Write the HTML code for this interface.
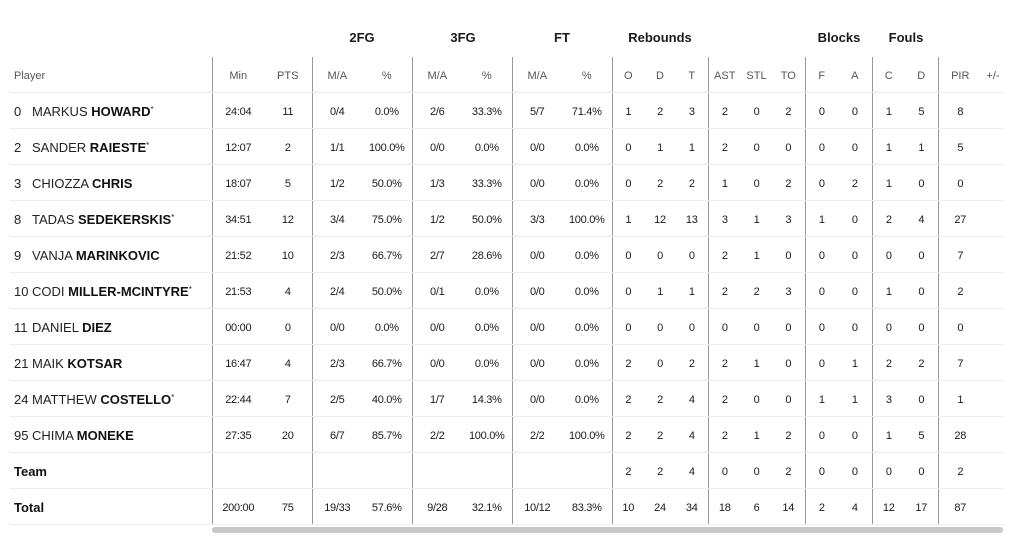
<!DOCTYPE html>
<html><head><meta charset="utf-8"><style>
body{margin:0;background:#fff;font-family:"Liberation Sans",sans-serif;color:#1a1a1a;width:1009px;height:550px;overflow:hidden;position:relative}
table{position:absolute;left:10px;top:57px;border-collapse:collapse;table-layout:fixed;width:993px}
td{height:33px;border-bottom:1px solid #ececec;text-align:center;font-size:11px;letter-spacing:-0.3px;padding:2px 0 0 0;white-space:nowrap;line-height:14px}
tr.h td{color:#555;font-size:11px;letter-spacing:0}
td.p{text-align:left;padding-left:4px;font-size:13px;color:#222;letter-spacing:0}
td.p b{color:#111}
.n{display:inline-block;width:18px}
.s{font-size:8px;vertical-align:top;position:relative;top:1px;line-height:8px}
.L{border-left:1px solid #999}
.g{position:absolute;top:30px;font-weight:bold;font-size:13px;transform:translateX(-50%)}
.bar{position:absolute;left:212px;top:527px;width:791px;height:6px;background:#c8c8c8;border-radius:3px}
</style></head><body>
<div class="g" style="left:362px">2FG</div>
<div class="g" style="left:463px">3FG</div>
<div class="g" style="left:562px">FT</div>
<div class="g" style="left:660px">Rebounds</div>
<div class="g" style="left:839px">Blocks</div>
<div class="g" style="left:906px">Fouls</div>
<table>
<colgroup><col style="width:202px"><col style="width:52px"><col style="width:48px"><col style="width:50px"><col style="width:50px"><col style="width:50px"><col style="width:50px"><col style="width:50px"><col style="width:50px"><col style="width:32px"><col style="width:32px"><col style="width:32px"><col style="width:33px"><col style="width:31px"><col style="width:33px"><col style="width:33px"><col style="width:34px"><col style="width:33px"><col style="width:33px"><col style="width:44px"><col style="width:22px"></colgroup>
<tr class="h"><td class="p" style="font-size:11px;color:#555">Player</td><td class="L">Min</td><td>PTS</td><td class="L">M/A</td><td>%</td><td class="L">M/A</td><td>%</td><td class="L">M/A</td><td>%</td><td class="L">O</td><td>D</td><td>T</td><td class="L">AST</td><td>STL</td><td>TO</td><td class="L">F</td><td>A</td><td class="L">C</td><td>D</td><td class="L">PIR</td><td>+/-</td></tr>
<tr><td class="p"><span class="n">0</span>MARKUS <b>HOWARD</b><span class="s">*</span></td><td class="L">24:04</td><td>11</td><td class="L">0/4</td><td>0.0%</td><td class="L">2/6</td><td>33.3%</td><td class="L">5/7</td><td>71.4%</td><td class="L">1</td><td>2</td><td>3</td><td class="L">2</td><td>0</td><td>2</td><td class="L">0</td><td>0</td><td class="L">1</td><td>5</td><td class="L">8</td><td></td></tr>
<tr><td class="p"><span class="n">2</span>SANDER <b>RAIESTE</b><span class="s">*</span></td><td class="L">12:07</td><td>2</td><td class="L">1/1</td><td>100.0%</td><td class="L">0/0</td><td>0.0%</td><td class="L">0/0</td><td>0.0%</td><td class="L">0</td><td>1</td><td>1</td><td class="L">2</td><td>0</td><td>0</td><td class="L">0</td><td>0</td><td class="L">1</td><td>1</td><td class="L">5</td><td></td></tr>
<tr><td class="p"><span class="n">3</span>CHIOZZA <b>CHRIS</b></td><td class="L">18:07</td><td>5</td><td class="L">1/2</td><td>50.0%</td><td class="L">1/3</td><td>33.3%</td><td class="L">0/0</td><td>0.0%</td><td class="L">0</td><td>2</td><td>2</td><td class="L">1</td><td>0</td><td>2</td><td class="L">0</td><td>2</td><td class="L">1</td><td>0</td><td class="L">0</td><td></td></tr>
<tr><td class="p"><span class="n">8</span>TADAS <b>SEDEKERSKIS</b><span class="s">*</span></td><td class="L">34:51</td><td>12</td><td class="L">3/4</td><td>75.0%</td><td class="L">1/2</td><td>50.0%</td><td class="L">3/3</td><td>100.0%</td><td class="L">1</td><td>12</td><td>13</td><td class="L">3</td><td>1</td><td>3</td><td class="L">1</td><td>0</td><td class="L">2</td><td>4</td><td class="L">27</td><td></td></tr>
<tr><td class="p"><span class="n">9</span>VANJA <b>MARINKOVIC</b></td><td class="L">21:52</td><td>10</td><td class="L">2/3</td><td>66.7%</td><td class="L">2/7</td><td>28.6%</td><td class="L">0/0</td><td>0.0%</td><td class="L">0</td><td>0</td><td>0</td><td class="L">2</td><td>1</td><td>0</td><td class="L">0</td><td>0</td><td class="L">0</td><td>0</td><td class="L">7</td><td></td></tr>
<tr><td class="p"><span class="n">10</span>CODI <b>MILLER-MCINTYRE</b><span class="s">*</span></td><td class="L">21:53</td><td>4</td><td class="L">2/4</td><td>50.0%</td><td class="L">0/1</td><td>0.0%</td><td class="L">0/0</td><td>0.0%</td><td class="L">0</td><td>1</td><td>1</td><td class="L">2</td><td>2</td><td>3</td><td class="L">0</td><td>0</td><td class="L">1</td><td>0</td><td class="L">2</td><td></td></tr>
<tr><td class="p"><span class="n">11</span>DANIEL <b>DIEZ</b></td><td class="L">00:00</td><td>0</td><td class="L">0/0</td><td>0.0%</td><td class="L">0/0</td><td>0.0%</td><td class="L">0/0</td><td>0.0%</td><td class="L">0</td><td>0</td><td>0</td><td class="L">0</td><td>0</td><td>0</td><td class="L">0</td><td>0</td><td class="L">0</td><td>0</td><td class="L">0</td><td></td></tr>
<tr><td class="p"><span class="n">21</span>MAIK <b>KOTSAR</b></td><td class="L">16:47</td><td>4</td><td class="L">2/3</td><td>66.7%</td><td class="L">0/0</td><td>0.0%</td><td class="L">0/0</td><td>0.0%</td><td class="L">2</td><td>0</td><td>2</td><td class="L">2</td><td>1</td><td>0</td><td class="L">0</td><td>1</td><td class="L">2</td><td>2</td><td class="L">7</td><td></td></tr>
<tr><td class="p"><span class="n">24</span>MATTHEW <b>COSTELLO</b><span class="s">*</span></td><td class="L">22:44</td><td>7</td><td class="L">2/5</td><td>40.0%</td><td class="L">1/7</td><td>14.3%</td><td class="L">0/0</td><td>0.0%</td><td class="L">2</td><td>2</td><td>4</td><td class="L">2</td><td>0</td><td>0</td><td class="L">1</td><td>1</td><td class="L">3</td><td>0</td><td class="L">1</td><td></td></tr>
<tr><td class="p"><span class="n">95</span>CHIMA <b>MONEKE</b></td><td class="L">27:35</td><td>20</td><td class="L">6/7</td><td>85.7%</td><td class="L">2/2</td><td>100.0%</td><td class="L">2/2</td><td>100.0%</td><td class="L">2</td><td>2</td><td>4</td><td class="L">2</td><td>1</td><td>2</td><td class="L">0</td><td>0</td><td class="L">1</td><td>5</td><td class="L">28</td><td></td></tr>
<tr><td class="p"><b>Team</b></td><td class="L"></td><td></td><td class="L"></td><td></td><td class="L"></td><td></td><td class="L"></td><td></td><td class="L">2</td><td>2</td><td>4</td><td class="L">0</td><td>0</td><td>2</td><td class="L">0</td><td>0</td><td class="L">0</td><td>0</td><td class="L">2</td><td></td></tr>
<tr><td class="p"><b>Total</b></td><td class="L">200:00</td><td>75</td><td class="L">19/33</td><td>57.6%</td><td class="L">9/28</td><td>32.1%</td><td class="L">10/12</td><td>83.3%</td><td class="L">10</td><td>24</td><td>34</td><td class="L">18</td><td>6</td><td>14</td><td class="L">2</td><td>4</td><td class="L">12</td><td>17</td><td class="L">87</td><td></td></tr>
</table>
<div class="bar"></div>
</body></html>
